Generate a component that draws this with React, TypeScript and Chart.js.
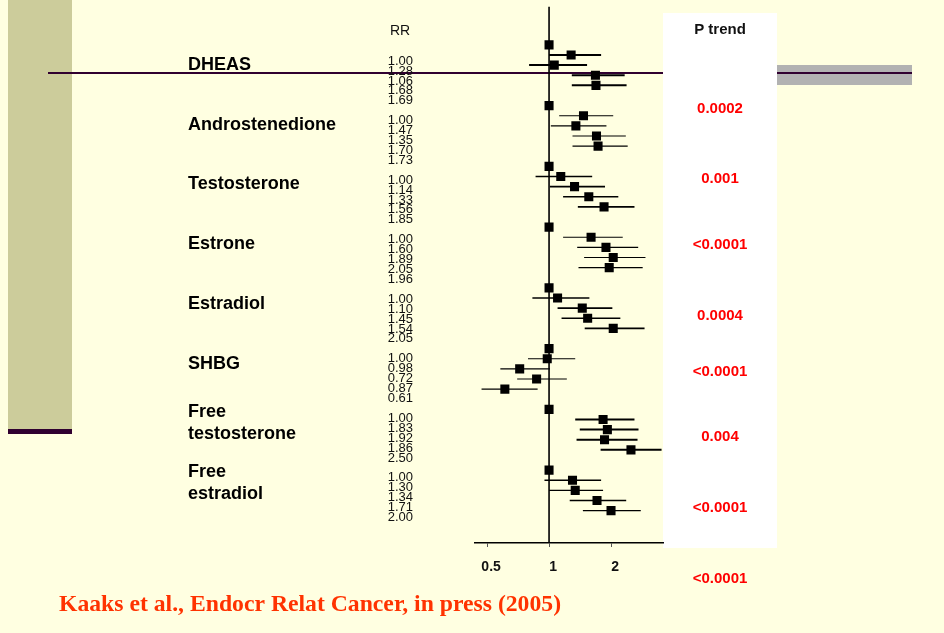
import React, { useEffect, useRef } from 'react';
import { Chart, registerables } from 'chart.js';

Chart.register(...registerables);

// ---- hormone groups, relative risks by fifth (first fifth = reference) ----
const groupNames = ['DHEAS', 'Androstenedione', 'Testosterone', 'Estrone', 'Estradiol', 'SHBG', 'Free testosterone', 'Free estradiol'];
const groupLabelLines = [['DHEAS'], ['Androstenedione'], ['Testosterone'], ['Estrone'], ['Estradiol'], ['SHBG'], ['Free', 'testosterone'], ['Free', 'estradiol']];

const dheasRR = [1.0, 1.28, 1.06, 1.68, 1.69];
const dheasLo = [null, 1.0, 0.8, 1.29, 1.29];
const dheasHi = [null, 1.79, 1.53, 2.33, 2.38];

const androRR = [1.0, 1.47, 1.35, 1.7, 1.73];
const androLo = [null, 1.12, 1.02, 1.3, 1.3];
const androHi = [null, 2.05, 1.9, 2.36, 2.41];

const testoRR = [1.0, 1.14, 1.33, 1.56, 1.85];
const testoLo = [null, 0.86, 1.01, 1.17, 1.38];
const testoHi = [null, 1.62, 1.87, 2.17, 2.6];

const estroneRR = [1.0, 1.6, 1.89, 2.05, 1.96];
const estroneLo = [null, 1.17, 1.37, 1.48, 1.39];
const estroneHi = [null, 2.28, 2.71, 2.94, 2.85];

const estradiolRR = [1.0, 1.1, 1.45, 1.54, 2.05];
const estradiolLo = [null, 0.83, 1.1, 1.15, 1.49];
const estradiolHi = [null, 1.57, 2.03, 2.22, 2.91];

const shbgRR = [1.0, 0.98, 0.72, 0.87, 0.61];
const shbgLo = [null, 0.79, 0.58, 0.7, 0.47];
const shbgHi = [null, 1.34, 1.01, 1.22, 0.88];

const freeTestoRR = [1.0, 1.83, 1.92, 1.86, 2.5];
const freeTestoLo = [null, 1.34, 1.41, 1.36, 1.78];
const freeTestoHi = [null, 2.6, 2.72, 2.69, 3.52];

const freeEstradiolRR = [1.0, 1.3, 1.34, 1.71, 2.0];
const freeEstradiolLo = [null, 0.95, 1.0, 1.26, 1.46];
const freeEstradiolHi = [null, 1.79, 1.83, 2.37, 2.79];

const pTrend = ['0.0002', '0.001', '<0.0001', '0.0004', '<0.0001', '0.004', '<0.0001', '<0.0001'];

const xTicks = [0.5, 1, 2];

// ---- layout / style ----
const W = 944;
const H = 633;
const SANS = '"Liberation Sans", Arial, Helvetica, sans-serif';
const SERIF = '"Liberation Serif", "Times New Roman", serif';
const BG = '#FFFFE1';
const SIDEBAR = '#CCCC9B';
const PURPLE = '#300030';
const GRAY_BLOCK = '#B2B2B2';
const ROWS_PER_GROUP = 6;
const Y_MIN = -3.8;
const Y_MAX = 49.2;
const X_MIN = 0.4368;
const X_MAX = 3.577;
const ciWidths = [2, 1.2, 1.7, 1.2, 1.7, 1.2, 2, 1.3];
// vertical placement (in row units) of the P-trend entries
const pTrendRowPos = [6.22, 13.1, 19.6, 26.6, 32.2, 38.6, 45.6, 52.6];

const groups = groupNames.map((name, g) => {
  const sets = [
    [dheasRR, dheasLo, dheasHi],
    [androRR, androLo, androHi],
    [testoRR, testoLo, testoHi],
    [estroneRR, estroneLo, estroneHi],
    [estradiolRR, estradiolLo, estradiolHi],
    [shbgRR, shbgLo, shbgHi],
    [freeTestoRR, freeTestoLo, freeTestoHi],
    [freeEstradiolRR, freeEstradiolLo, freeEstradiolHi],
  ][g];
  return { name, rr: sets[0], lo: sets[1], hi: sets[2] };
});

const squarePoints: { x: number; y: number }[] = [];
const ciDatasets: any[] = [];
groups.forEach((grp, g) => {
  grp.rr.forEach((v, i) => {
    const row = g * ROWS_PER_GROUP + i;
    squarePoints.push({ x: v, y: row });
    const lo = grp.lo[i];
    const hi = grp.hi[i];
    if (lo != null && hi != null) {
      ciDatasets.push({
        data: [{ x: lo, y: row }, { x: hi, y: row }],
        showLine: true,
        borderColor: '#000',
        borderWidth: ciWidths[g],
        pointRadius: 0,
      });
    }
  });
});

const slideDecor = {
  id: 'slideDecor',
  beforeDraw(chart: any) {
    const { ctx } = chart;
    ctx.save();
    ctx.fillStyle = BG;
    ctx.fillRect(0, 0, W, H);
    ctx.fillStyle = SIDEBAR;
    ctx.fillRect(8, 0, 64, 429);
    ctx.fillStyle = PURPLE;
    ctx.fillRect(8, 429, 64, 5);
    ctx.fillStyle = GRAY_BLOCK;
    ctx.fillRect(777, 65, 135, 20);
    ctx.fillStyle = PURPLE;
    ctx.fillRect(48, 72, 864, 2);
    ctx.fillStyle = '#FFFFFF';
    ctx.fillRect(663, 13, 114, 535);
    ctx.restore();
  },
  afterDraw(chart: any) {
    const { ctx } = chart;
    const yScale = chart.scales.y;
    const yAt = (row: number) => yScale.getPixelForValue(row);
    ctx.save();

    // column header for the relative risks
    ctx.fillStyle = '#111';
    ctx.font = `14px ${SANS}`;
    ctx.textAlign = 'left';
    ctx.textBaseline = 'alphabetic';
    ctx.fillText('RR', 390, 35);

    // relative-risk values, one per fifth
    ctx.font = `13px ${SANS}`;
    ctx.textAlign = 'right';
    groups.forEach((grp, g) => {
      grp.rr.forEach((v, i) => {
        const row = g * ROWS_PER_GROUP + i;
        ctx.fillText(v.toFixed(2), 413, yAt(1.5 + 0.98 * row) + 4.6);
      });
    });

    // hormone names
    ctx.font = `bold 18px ${SANS}`;
    ctx.textAlign = 'left';
    ctx.fillStyle = '#000';
    groupLabelLines.forEach((lines, g) => {
      const center = yAt(g * 5.9 + 1.85);
      const start = center - ((lines.length - 1) * 22) / 2;
      lines.forEach((line, j) => {
        ctx.fillText(line, 188, start + j * 22 + 6.4);
      });
    });

    // P for trend column
    ctx.textAlign = 'center';
    ctx.font = `bold 15px ${SANS}`;
    ctx.fillStyle = '#111';
    ctx.fillText('P trend', 720, 34);
    ctx.fillStyle = '#FF0000';
    pTrend.forEach((p, g) => {
      ctx.fillText(p, 720, yAt(pTrendRowPos[g]) + 5.4);
    });

    // source line
    ctx.textAlign = 'left';
    ctx.font = `bold 23.7px ${SERIF}`;
    ctx.fillStyle = '#FF3300';
    ctx.fillText('Kaaks et al., Endocr Relat Cancer, in press (2005)', 59, 611);

    ctx.restore();
  },
};

export default function App() {
  const canvasRef = useRef<HTMLCanvasElement>(null);

  useEffect(() => {
    const canvas = canvasRef.current;
    if (!canvas) return;
    const chart = new Chart(canvas, {
      type: 'scatter',
      data: {
        datasets: [
          {
            data: squarePoints,
            pointStyle: 'rect',
            pointRadius: 6.4,
            pointBackgroundColor: '#000',
            pointBorderWidth: 0,
            showLine: false,
          } as any,
          ...ciDatasets,
          {
            data: [{ x: 1, y: Y_MIN }, { x: 1, y: Y_MAX }],
            showLine: true,
            borderColor: '#000',
            borderWidth: 1.6,
            pointRadius: 0,
          },
        ],
      },
      options: {
        animation: false,
        responsive: false,
        devicePixelRatio: 1,
        events: [],
        layout: { padding: { left: 475, right: W - 663, top: 4, bottom: 0 } },
        plugins: {
          legend: { display: false },
          tooltip: { enabled: false },
        },
        scales: {
          x: {
            type: 'logarithmic',
            position: 'bottom',
            min: X_MIN,
            max: X_MAX,
            afterBuildTicks: (axis: any) => {
              axis.ticks = xTicks.map((v) => ({ value: v }));
            },
            afterFit: (axis: any) => {
              axis.height = 90;
            },
            border: { display: true, color: '#000', width: 1.5 },
            grid: { display: true, drawOnChartArea: false, drawTicks: true, tickLength: 4, color: '#555', lineWidth: 1 },
            ticks: {
              callback: (v: any) => String(v),
              font: { family: SANS, size: 14, weight: 'bold' },
              color: '#111',
              padding: 12,
              labelOffset: 4,
              autoSkip: false,
              maxRotation: 0,
            },
          },
          y: {
            type: 'linear',
            reverse: true,
            min: Y_MIN,
            max: Y_MAX,
            display: false,
          },
        },
      } as any,
      plugins: [slideDecor],
    });
    return () => chart.destroy();
  }, []);

  return (
    <div style={{ position: 'fixed', left: 0, top: 0, width: W, height: H }}>
      <canvas ref={canvasRef} width={W} height={H} style={{ display: 'block', width: W, height: H }} />
    </div>
  );
}
